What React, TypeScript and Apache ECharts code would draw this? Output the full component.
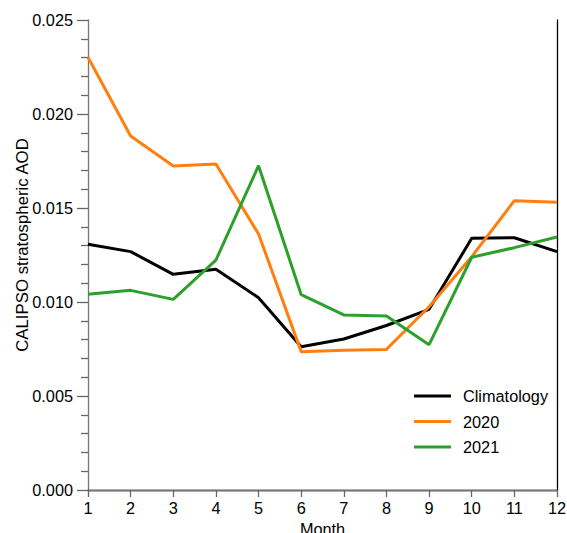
import React, { useEffect, useRef } from "react";
import * as echarts from "echarts";

const months = [1, 2, 3, 4, 5, 6, 7, 8, 9, 10, 11, 12];
const climatology = [0.01307, 0.01268, 0.01147, 0.01174, 0.01023, 0.00762, 0.00803, 0.00875, 0.00961, 0.01339, 0.01342, 0.01268];
const y2020 = [0.02302, 0.01883, 0.01723, 0.01734, 0.01362, 0.00736, 0.00743, 0.00748, 0.00975, 0.01241, 0.01539, 0.0153];
const y2021 = [0.01041, 0.01062, 0.01014, 0.01223, 0.01725, 0.01039, 0.00931, 0.00926, 0.00773, 0.01238, 0.01289, 0.01346];
const seriesNames = ["Climatology", "2020", "2021"];
const seriesColors = ["#000000", "#ff7f0e", "#2ca02c"];

const FONT = "'Liberation Sans', Arial, Helvetica, sans-serif";

export default function App() {
  const ref = useRef<HTMLDivElement>(null);
  useEffect(() => {
    if (!ref.current) return;
    const chart = echarts.init(ref.current, undefined, { renderer: "svg" });
    const datasets = [climatology, y2020, y2021];
    chart.setOption({
      animation: false,
      textStyle: { fontFamily: FONT },
      grid: { left: 88, right: 10, top: 20, bottom: 43, containLabel: false, outerBoundsMode: "none" },
      legend: {
        orient: "vertical",
        left: 414,
        top: 386,
        padding: 0,
        itemWidth: 37,
        itemHeight: 3,
        itemGap: 5.5,
        icon: "rect",
        data: seriesNames,
        textStyle: { fontFamily: FONT, fontSize: 16.3, color: "#000", lineHeight: 20, padding: [0, 0, 0, 7] },
      },
      xAxis: [
        {
          type: "value",
          min: 1,
          max: 12,
          interval: 1,
          name: "Month",
          nameLocation: "middle",
          nameGap: 29,
          nameTextStyle: { fontFamily: FONT, fontSize: 16.3, color: "#000" },
          axisLine: { show: true, onZero: false, lineStyle: { color: "#000", width: 1.3 } },
          axisTick: { show: true, length: 7, lineStyle: { color: "#666", width: 1.3 } },
          axisLabel: { fontFamily: FONT, fontSize: 16.3, color: "#000", margin: 10 },
          splitLine: { show: false },
        },
        {
          type: "value",
          position: "top",
          min: 1,
          max: 12,
          interval: 1,
          axisLine: { show: true, lineStyle: { color: "#777", width: 1.3 } },
          axisTick: { show: false },
          axisLabel: { show: false },
          splitLine: { show: false },
        },
      ],
      yAxis: [
        {
          type: "value",
          min: 0,
          max: 0.025,
          interval: 0.005,
          axisLine: { show: true, lineStyle: { color: "#777", width: 1.3 } },
          axisTick: { show: true, length: 11, lineStyle: { color: "#666", width: 1.3 } },
          minorTick: { show: true, splitNumber: 5, length: 7, lineStyle: { color: "#666", width: 1.3 } },
          axisLabel: {
            fontFamily: FONT,
            fontSize: 16.3,
            color: "#000",
            margin: 15,
            formatter: (v: number) => v.toFixed(3),
          },
          splitLine: { show: false },
        },
        {
          type: "value",
          position: "right",
          min: 0,
          max: 0.025,
          interval: 0.005,
          axisLine: { show: true, lineStyle: { color: "#000", width: 1.3 } },
          axisTick: { show: false },
          axisLabel: { show: false },
          splitLine: { show: false },
        },
      ],
      graphic: [
        {
          type: "text",
          x: 22,
          y: 245,
          rotation: Math.PI / 2,
          style: {
            text: "CALIPSO stratospheric AOD",
            fontFamily: FONT,
            fontSize: 16.8,
            fill: "#000",
            align: "center",
            verticalAlign: "middle",
          },
        },
      ],
      series: datasets.map((d, i) => ({
        name: seriesNames[i],
        type: "line",
        xAxisIndex: 0,
        yAxisIndex: 0,
        symbol: "none",
        data: months.map((m, j) => [m, d[j]]),
        lineStyle: { color: seriesColors[i], width: 3 },
        itemStyle: { color: seriesColors[i] },
        z: 2 + i,
      })),
    });
    return () => chart.dispose();
  }, []);
  return (
    <div
      ref={ref}
      style={{ position: "absolute", left: 0, top: 0, width: 567, height: 533 }}
    />
  );
}
